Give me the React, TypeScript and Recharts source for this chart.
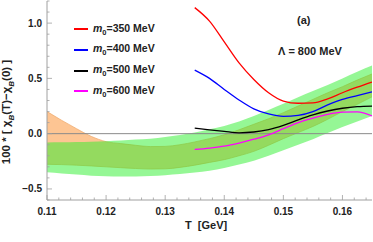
import { ComposedChart, Area, Line, XAxis, YAxis, ReferenceLine } from 'recharts';

const temps = [
  0.11, 0.1125, 0.115, 0.1175, 0.12, 0.1225, 0.125, 0.1275, 0.13, 0.1325, 0.135, 0.1375,
  0.14, 0.1425, 0.145, 0.1475, 0.15, 0.1525, 0.155, 0.1575, 0.16, 0.1625, 0.165,
];

// green band
const greenLo = [
  -0.35, -0.36, -0.37, -0.38, -0.385, -0.388, -0.387, -0.383, -0.375, -0.365, -0.352, -0.335,
  -0.31, -0.28, -0.245, -0.2, -0.15, -0.1, -0.05, 0.005, 0.06, 0.11, 0.16,
];
const greenHi = [
  -0.08, -0.078, -0.075, -0.072, -0.068, -0.062, -0.052, -0.045, -0.03, -0.012, 0.01, 0.04,
  0.07, 0.11, 0.16, 0.215, 0.27, 0.33, 0.385, 0.44, 0.5, 0.56, 0.616,
];

// orange band
const orangeLo = [
  -0.277, -0.28, -0.285, -0.292, -0.3, -0.308, -0.315, -0.32, -0.318, -0.305, -0.285, -0.26,
  -0.235, -0.2, -0.16, -0.105, -0.045, 0.01, 0.065, 0.13, 0.2, 0.265, 0.333,
];
const orangeHi = [
  0.2, 0.12, 0.045, -0.025, -0.072, -0.09, -0.105, -0.117, -0.115, -0.1, -0.075, -0.045,
  -0.01, 0.035, 0.085, 0.135, 0.19, 0.25, 0.31, 0.37, 0.425, 0.485, 0.54,
];

const N = null;
const m350 = [N, N, N, N, N, N, N, N, N, N, 1.14, 1.018, 0.83, 0.64, 0.49, 0.37, 0.295, 0.275, 0.278, 0.315, 0.37, 0.42, 0.467];
const m400 = [N, N, N, N, N, N, N, N, N, N, 0.575, 0.5, 0.4, 0.305, 0.225, 0.178, 0.156, 0.165, 0.2, 0.26, 0.31, 0.345, 0.378];
const m500 = [N, N, N, N, N, N, N, N, N, N, 0.05, 0.035, 0.021, 0.008, 0.015, 0.036, 0.075, 0.125, 0.17, 0.205, 0.23, 0.245, 0.25];
const m600 = [N, N, N, N, N, N, N, N, N, N, -0.143, -0.13, -0.113, -0.085, -0.05, -0.01, 0.045, 0.1, 0.14, 0.175, 0.195, 0.198, 0.16];

const masses = [350, 400, 500, 600];
const curves = [m350, m400, m500, m600];
const colors = ['#ff0000', '#0000ff', '#000000', '#ff00ff'];

const xTicks = [
  0.11, 0.112, 0.114, 0.116, 0.118, 0.12, 0.122, 0.124, 0.126, 0.128, 0.13, 0.132, 0.134, 0.136,
  0.138, 0.14, 0.142, 0.144, 0.146, 0.148, 0.15, 0.152, 0.154, 0.156, 0.158, 0.16, 0.162, 0.164,
];
const xMajor = [0.11, 0.12, 0.13, 0.14, 0.15, 0.16];
const yTicks = [-0.6, -0.5, -0.4, -0.3, -0.2, -0.1, 0, 0.1, 0.2, 0.3, 0.4, 0.5, 0.6, 0.7, 0.8, 0.9, 1.0, 1.1, 1.2];
const yMajor = [-0.5, 0, 0.5, 1.0];

const rows = temps.map((T, i) => {
  const r: Record<string, number | null | number[]> = {
    T,
    green: [greenLo[i], greenHi[i]],
    orange: [orangeLo[i], orangeHi[i]],
  };
  curves.forEach((c, k) => {
    r['m' + masses[k]] = c[i];
  });
  return r;
});

const frame = '#a0a0a0';
const labelFont = { fontFamily: 'Liberation Sans, Arial, sans-serif', fontWeight: 700 as const };

function fmtY(v: number) {
  const s = Math.abs(v).toFixed(1);
  return v < 0 ? '\u2212' + s : s;
}

const BottomTick = (p: any) => {
  const v = p.payload.value;
  const major = xMajor.includes(v);
  return (
    <g>
      <line x1={p.x} x2={p.x} y1={p.y} y2={p.y - (major ? 5 : 2.5)} stroke={frame} strokeWidth={0.8} />
      {major && (
        <text x={p.x} y={p.y + 14.5} textAnchor="middle" fontSize={10} fill="#222" {...labelFont}>
          {v.toFixed(2)}
        </text>
      )}
    </g>
  );
};

const TopTick = (p: any) => {
  const major = xMajor.includes(p.payload.value);
  return <line x1={p.x} x2={p.x} y1={p.y} y2={p.y + (major ? 5 : 2.5)} stroke={frame} strokeWidth={0.8} />;
};

const LeftTick = (p: any) => {
  const v = p.payload.value;
  const major = yMajor.includes(v);
  return (
    <g>
      <line x1={p.x} x2={p.x + (major ? 5 : 2.5)} y1={p.y} y2={p.y} stroke={frame} strokeWidth={0.8} />
      {major && (
        <text x={p.x - 5} y={p.y + 3.5} textAnchor="end" fontSize={10} fill="#222" {...labelFont}>
          {fmtY(v)}
        </text>
      )}
    </g>
  );
};

const RightTick = (p: any) => {
  const major = yMajor.includes(p.payload.value);
  return <line x1={p.x} x2={p.x - (major ? 5 : 2.5)} y1={p.y} y2={p.y} stroke={frame} strokeWidth={0.8} />;
};

export default function App() {
  return (
    <div style={{ position: 'absolute', left: 0, top: 0, width: 373, height: 242, background: '#fff' }}>
      <ComposedChart width={373} height={242} data={rows} margin={{ top: 1, right: 1, left: 0, bottom: 0 }}>
        <XAxis
          xAxisId="b"
          dataKey="T"
          type="number"
          domain={[0.11, 0.165]}
          ticks={xTicks}
          interval={0}
          height={42}
          tickSize={0}
          tickMargin={0}
          tickLine={false}
          tick={BottomTick}
          stroke={frame}
          allowDataOverflow
        />
        <XAxis
          xAxisId="t"
          orientation="top"
          dataKey="T"
          type="number"
          domain={[0.11, 0.165]}
          ticks={xTicks}
          interval={0}
          height={0}
          tickSize={0}
          tickMargin={0}
          tickLine={false}
          tick={TopTick}
          stroke={frame}
          allowDataOverflow
        />
        <YAxis
          yAxisId="l"
          type="number"
          domain={[-0.6, 1.2]}
          ticks={yTicks}
          interval={0}
          width={47}
          tickSize={0}
          tickMargin={0}
          tickLine={false}
          tick={LeftTick}
          stroke={frame}
          allowDataOverflow
        />
        <YAxis
          yAxisId="r"
          orientation="right"
          type="number"
          domain={[-0.6, 1.2]}
          ticks={yTicks}
          interval={0}
          width={0}
          tickSize={0}
          tickMargin={0}
          tickLine={false}
          tick={RightTick}
          stroke={frame}
          allowDataOverflow
        />
        <Area
          xAxisId="b"
          yAxisId="l"
          dataKey="orange"
          type="monotone"
          fill="#fdc593"
          fillOpacity={1}
          stroke="#eea462"
          strokeWidth={0.7}
          isAnimationActive={false}
        />
        <Area
          xAxisId="b"
          yAxisId="l"
          dataKey="green"
          type="monotone"
          fill="#2cf02c"
          fillOpacity={0.5}
          stroke="none"
          isAnimationActive={false}
        />
        <ReferenceLine xAxisId="b" yAxisId="l" y={0} stroke="#8a8a8a" strokeWidth={1} />
        {masses.map((m, k) => (
          <Line
            key={m}
            xAxisId="b"
            yAxisId="l"
            dataKey={'m' + m}
            type="monotone"
            stroke={colors[k]}
            strokeWidth={1.3}
            dot={false}
            isAnimationActive={false}
          />
        ))}
      </ComposedChart>

      {/* legend */}
      <div style={{ position: 'absolute', left: 74, top: 19, ...labelFont, fontSize: 10.5, color: '#222' }}>
        {masses.map((m, k) => (
          <div key={m} style={{ display: 'flex', alignItems: 'center', height: 20.7 }}>
            <div style={{ width: 14, height: 2, flexShrink: 0, background: colors[k], marginRight: 5 }} />
            <span>
              <i>m</i>
              <sub style={{ fontSize: 7.5 }}>0</sub>={m} MeV
            </span>
          </div>
        ))}
      </div>

      <div style={{ position: 'absolute', left: 297, top: 14, ...labelFont, fontSize: 11, color: '#222' }}>(a)</div>
      <div style={{ position: 'absolute', left: 278, top: 45, ...labelFont, fontSize: 11, color: '#222', whiteSpace: 'pre' }}>
        {'\u039B = 800 MeV'}
      </div>

      <div style={{ position: 'absolute', left: 185, top: 219, ...labelFont, fontSize: 11, color: '#222', whiteSpace: 'pre' }}>
        {'T  [GeV]'}
      </div>

      <div
        style={{
          position: 'absolute',
          left: 8,
          top: 112,
          transform: 'translate(-50%, -50%) rotate(-90deg)',
          ...labelFont,
          fontSize: 11.5,
          color: '#222',
          whiteSpace: 'pre',
        }}
      >
        100 * [ {'\u03C7'}
        <sub style={{ fontSize: 8 }}><i>B</i></sub>(T){'\u2212\u03C7'}
        <sub style={{ fontSize: 8 }}><i>B</i></sub>(0) ]
      </div>
    </div>
  );
}
